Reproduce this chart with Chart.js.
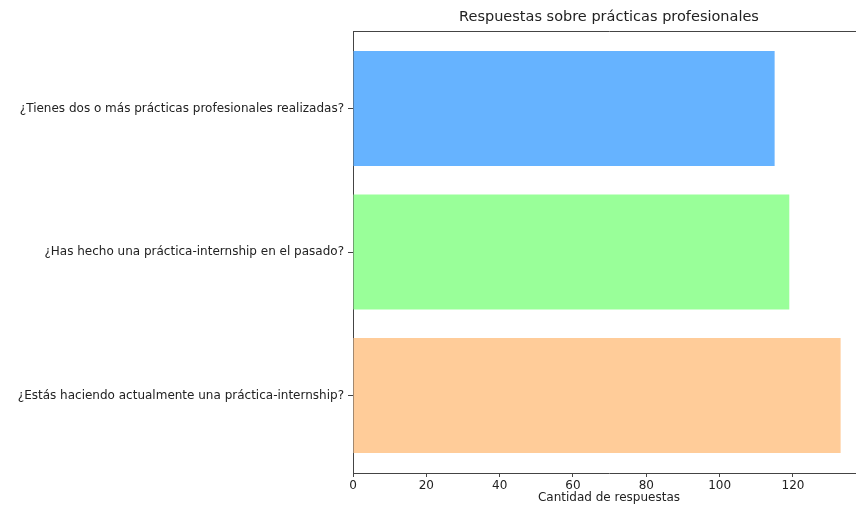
<!DOCTYPE html>
<html>
<head>
<meta charset="utf-8">
<script src="https://cdn.jsdelivr.net/npm/chart.js@4/dist/chart.umd.min.js"></script>
<style>
  html, body { margin: 0; padding: 0; background: #fff; overflow: hidden; }
  #wrap { width: 880px; height: 511px; }
</style>
</head>
<body>
<div id="wrap"><canvas id="chart" width="880" height="511"></canvas></div>
<script>
// bottom to top, like the original barh
const labels = [
  '¿Estás haciendo actualmente una práctica-internship?',
  '¿Has hecho una práctica-internship en el pasado?',
  '¿Tienes dos o más prácticas profesionales realizadas?',
]
const values = [133, 119, 115]
const colors = ['#ffcc99', '#99ff99', '#66b3ff']
const xTicks = [0, 20, 40, 60, 80, 100, 120]
const xMax = 139.65
const yMin = -0.54
const yMax = 2.54

const font = 'DejaVu Sans'
const textColor = '#222'
const lineColor = '#444'

new Chart(document.getElementById('chart'), {
  type: 'bar',
  data: {
    datasets: [
      {
        data: values.map((v, i) => ({ x: v, y: i })),
        backgroundColor: colors,
        borderWidth: 0,
        barPercentage: 0.8,
        categoryPercentage: 1,
      },
    ],
  },
  options: {
    indexAxis: 'y',
    responsive: false,
    animation: false,
    devicePixelRatio: 1,
    layout: { padding: { left: 0, right: 15, top: 0, bottom: 0 } },
    plugins: {
      legend: { display: false },
      tooltip: { enabled: false },
    },
    scales: {
      x: {
        type: 'linear',
        position: 'bottom',
        min: 0,
        max: xMax,
        afterBuildTicks: (scale) => {
          scale.ticks = xTicks.map((v) => ({ value: v }))
        },
        afterFit: (scale) => {
          scale.height = 38
        },
        ticks: {
          color: textColor,
          font: { family: font, size: 12 },
          padding: 2,
          maxRotation: 0,
        },
        grid: {
          drawOnChartArea: false,
          drawTicks: true,
          tickLength: 4,
          color: lineColor,
        },
        border: { color: lineColor, width: 1 },
        title: {
          display: true,
          text: 'Cantidad de respuestas',
          color: textColor,
          font: { family: font, size: 12 },
          padding: { top: 0, bottom: 6 },
        },
      },
      x2: {
        type: 'linear',
        position: 'top',
        min: 0,
        max: xMax,
        afterFit: (scale) => {
          scale.height = 31
        },
        ticks: { display: false },
        grid: { drawOnChartArea: false, drawTicks: false },
        border: { color: lineColor, width: 1 },
        title: {
          display: true,
          text: 'Respuestas sobre prácticas profesionales',
          color: textColor,
          font: { family: font, size: 14.5 },
          padding: { top: 9, bottom: 0 },
        },
      },
      y: {
        type: 'linear',
        min: yMin,
        max: yMax,
        offset: false,
        afterBuildTicks: (scale) => {
          scale.ticks = labels.map((_, i) => ({ value: i }))
        },
        afterFit: (scale) => {
          scale.width = 353
        },
        ticks: {
          color: textColor,
          font: { family: font, size: 12 },
          padding: 4,
          callback: (v) => labels[v],
        },
        grid: {
          offset: false,
          drawOnChartArea: false,
          drawTicks: true,
          tickLength: 5,
          color: lineColor,
        },
        border: { color: lineColor, width: 1 },
      },
    },
  },
})
</script>
</body>
</html>
